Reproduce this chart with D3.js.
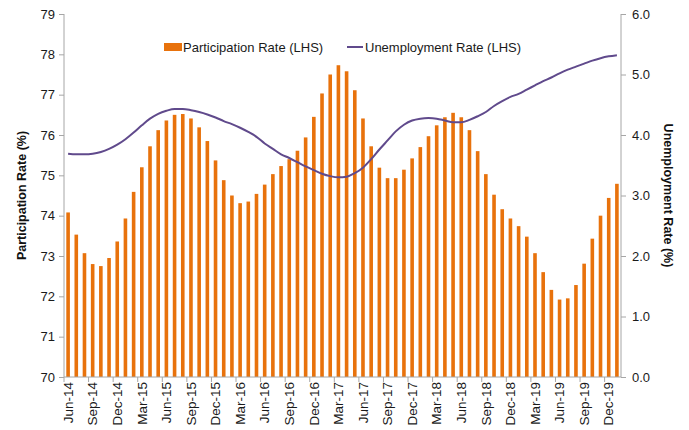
<!DOCTYPE html>
<html>
<head>
<meta charset="utf-8">
<script src="https://cdn.jsdelivr.net/npm/d3@7"></script>
<style>
  body { margin: 0; background: #fff; }
  svg { font-family: "Liberation Sans", Arial, sans-serif; }
</style>
</head>
<body>
<div class="canvas"></div>
<script>
// months Jun-14 .. Jan-20
const months = [];
const monthNames = ['Jan','Feb','Mar','Apr','May','Jun','Jul','Aug','Sep','Oct','Nov','Dec'];
for (let k = 0; k < 68; k++) {
  const m = (5 + k) % 12;
  const y = 14 + Math.floor((5 + k) / 12);
  months.push(monthNames[m] + '-' + y);
}

const participation = [
  74.08, 73.53, 73.07, 72.80, 72.75, 72.95, 73.36, 73.93, 74.59, 75.20,
  75.72, 76.12, 76.36, 76.50, 76.52, 76.41, 76.19, 75.85, 75.37, 74.88,
  74.50, 74.31, 74.35, 74.54, 74.77, 75.03, 75.23, 75.40, 75.61, 75.94,
  76.45, 77.03, 77.50, 77.73, 77.58, 77.11, 76.41, 75.72, 75.19, 74.93,
  74.93, 75.14, 75.42, 75.70, 75.97, 76.24, 76.44, 76.55, 76.44, 76.12,
  75.60, 75.03, 74.52, 74.16, 73.93, 73.74, 73.48, 73.07, 72.60, 72.16,
  71.92, 71.95, 72.28, 72.81, 73.43, 74.00, 74.44, 74.79
];

const unemployment = [
  3.69, 3.68, 3.68, 3.69, 3.72, 3.77, 3.84, 3.93, 4.04, 4.16,
  4.27, 4.35, 4.40, 4.43, 4.43, 4.41, 4.38, 4.34, 4.29, 4.23,
  4.18, 4.12, 4.05, 3.97, 3.86, 3.77, 3.68, 3.62, 3.55, 3.48,
  3.42, 3.36, 3.32, 3.30, 3.31, 3.37, 3.46, 3.60, 3.76, 3.91,
  4.06, 4.17, 4.24, 4.27, 4.28, 4.27, 4.24, 4.21, 4.21, 4.25,
  4.31, 4.38, 4.48, 4.56, 4.63, 4.68, 4.75, 4.82, 4.89, 4.95,
  5.02, 5.08, 5.13, 5.18, 5.23, 5.27, 5.30, 5.32
];

const leftTicks = [70, 71, 72, 73, 74, 75, 76, 77, 78, 79];
const rightTicks = [0, 1, 2, 3, 4, 5, 6];

const W = 689, H = 430;
const margin = { top: 14, right: 68, bottom: 53, left: 64 };
const width = W - margin.left - margin.right;
const height = H - margin.top - margin.bottom;

const svg = d3.select('.canvas')
  .append('svg')
  .attr('width', W)
  .attr('height', H);

const graph = svg.append('g')
  .attr('transform', `translate(${margin.left}, ${margin.top})`);

const x = d3.scaleBand().domain(months).range([0, width]).paddingInner(0).paddingOuter(0);
const yL = d3.scaleLinear().domain([70, 79]).range([height, 0]);
const yR = d3.scaleLinear().domain([0, 6]).range([height, 0]);

const axisColor = '#a6a6a6';
const textColor = '#1a1a1a';

// bars
const barW = x.bandwidth() * 0.44;
graph.selectAll('rect.bar')
  .data(participation)
  .enter()
  .append('rect')
  .attr('class', 'bar')
  .attr('x', (d, i) => x(months[i]) + x.bandwidth() / 2 - barW / 2)
  .attr('y', d => yL(d))
  .attr('width', barW)
  .attr('height', d => height - yL(d))
  .attr('fill', '#e8720c');

// line
const line = d3.line()
  .x((d, i) => x(months[i]) + x.bandwidth() / 2)
  .y(d => yR(d))
  .curve(d3.curveMonotoneX);

graph.append('path')
  .datum(unemployment)
  .attr('d', line)
  .attr('fill', 'none')
  .attr('stroke', '#604a8c')
  .attr('stroke-width', 2);

// left axis
const gL = graph.append('g')
  .call(d3.axisLeft(yL).tickValues(leftTicks).tickSize(5).tickPadding(4).tickFormat(d3.format('d')));
// right axis
const gR = graph.append('g')
  .attr('transform', `translate(${width}, 0)`)
  .call(d3.axisRight(yR).tickValues(rightTicks).tickSize(5).tickPadding(6).tickFormat(d3.format('.1f')));

// bottom axis: ticks every 3 months at category boundaries
const gB = graph.append('g')
  .attr('transform', `translate(0, ${height})`)
  .call(d3.axisBottom(x).tickSize(0).tickFormat((d, i) => i % 3 === 0 ? d : ''));

gB.selectAll('.tick')
  .filter((d, i) => i % 3 === 0)
  .append('line')
  .attr('x1', -x.bandwidth() / 2)
  .attr('x2', -x.bandwidth() / 2)
  .attr('y1', 0)
  .attr('y2', 5)
  .attr('stroke', axisColor);

[gL, gR, gB].forEach(g => {
  g.selectAll('.domain').attr('stroke', axisColor);
  g.selectAll('.tick line').attr('stroke', axisColor);
  g.selectAll('.tick text').attr('fill', textColor).style('font-size', '13px').style('font-family', '"Liberation Sans", Arial, sans-serif');
});

gB.selectAll('.tick text')
  .attr('transform', 'rotate(-90)')
  .attr('text-anchor', 'end')
  .attr('x', -5)
  .attr('y', 0)
  .attr('dy', '0.35em')
  .style('font-size', '13.5px');

gB.select('.domain').attr('d', `M0,0H${width}`);
gL.select('.domain').attr('d', `M0,0V${height}`);
gR.select('.domain').attr('d', `M0,0V${height}`);

// axis titles
svg.append('text')
  .attr('transform', `translate(22, ${margin.top + height / 2}) rotate(-90)`)
  .attr('text-anchor', 'middle')
  .attr('dy', '0.35em')
  .style('font-size', '12.5px')
  .style('font-weight', 'bold')
  .attr('fill', '#111')
  .text('Participation Rate (%)');

svg.append('text')
  .attr('transform', `translate(668, ${margin.top + height / 2}) rotate(90)`)
  .attr('text-anchor', 'middle')
  .attr('dy', '0.35em')
  .style('font-size', '12.5px')
  .style('font-weight', 'bold')
  .attr('fill', '#111')
  .text('Unemployment Rate (%)');

// legend
const legend = svg.append('g').attr('transform', 'translate(164, 47)');
legend.append('rect')
  .attr('x', 0).attr('y', -4).attr('width', 18).attr('height', 8)
  .attr('fill', '#e8720c');
legend.append('text')
  .attr('x', 19).attr('dy', '0.35em')
  .style('font-size', '13px').attr('fill', textColor)
  .text('Participation Rate (LHS)');
legend.append('line')
  .attr('x1', 183).attr('x2', 199).attr('y1', 0).attr('y2', 0)
  .attr('stroke', '#604a8c').attr('stroke-width', 2);
legend.append('text')
  .attr('x', 201).attr('dy', '0.35em')
  .style('font-size', '13px').attr('fill', textColor)
  .text('Unemployment Rate (LHS)');
</script>
</body>
</html>
